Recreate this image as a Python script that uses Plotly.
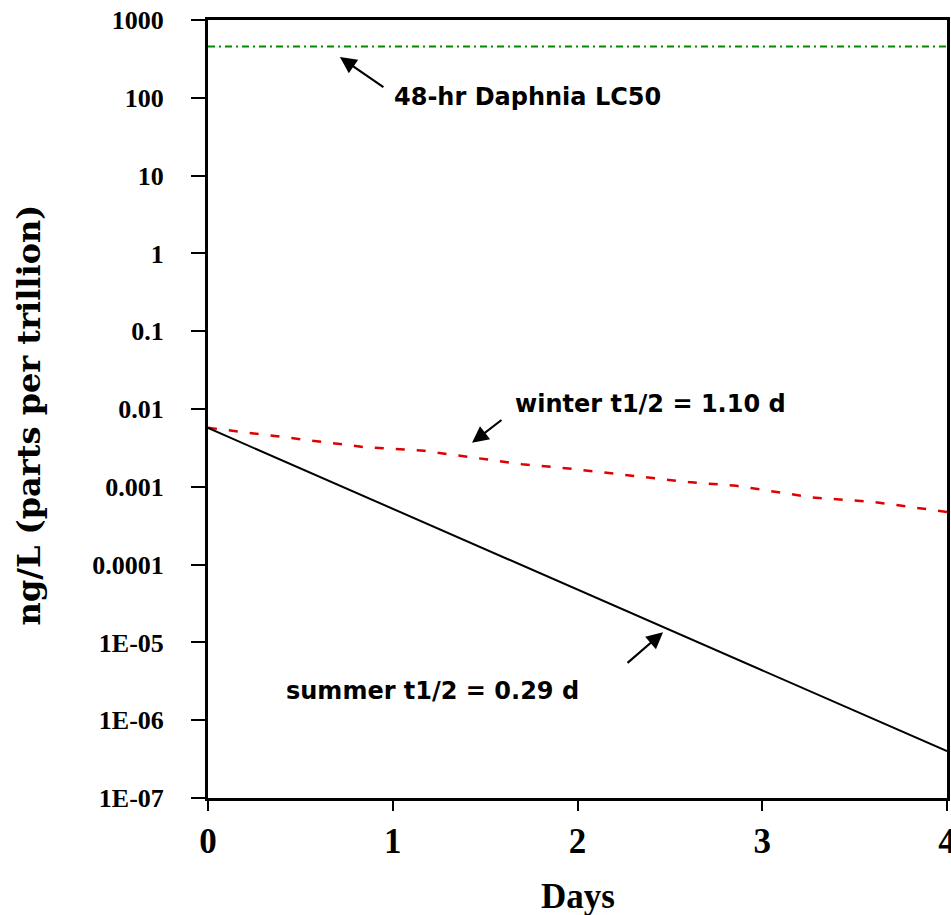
import plotly.graph_objects as go

# Data
days_summer = [0.0, 4.0]
conc_summer = [0.0057, 4.0e-7]

days_winter = [0.0, 0.40, 0.84, 1.17, 1.70, 1.95, 2.60, 2.86, 3.27, 3.60, 4.0]
conc_winter = [0.00574, 0.00435, 0.00325, 0.00290, 0.00195, 0.00172, 0.00115, 0.00103, 0.00073, 0.00064, 0.000475]

days_lc50 = [0.0, 4.0]
conc_lc50 = [455, 455]

x_ticks = [0, 1, 2, 3, 4]
y_tickvals = [1e3, 1e2, 1e1, 1, 0.1, 0.01, 0.001, 0.0001, 1e-5, 1e-6, 1e-7]
y_ticktext = ["1000", "100", "10", "1", "0.1", "0.01", "0.001", "0.0001", "1E-05", "1E-06", "1E-07"]

fig = go.Figure()
fig.add_trace(go.Scatter(x=days_lc50, y=conc_lc50, mode="lines",
                         line=dict(color="#008a00", width=2, dash="7px,4px,2px,4px"),
                         showlegend=False))
fig.add_trace(go.Scatter(x=days_winter, y=conc_winter, mode="lines",
                         line=dict(color="#e00000", width=2.5, dash="9px,12px"),
                         showlegend=False))
fig.add_trace(go.Scatter(x=days_summer, y=conc_summer, mode="lines",
                         line=dict(color="black", width=2),
                         showlegend=False))

serif = "Liberation Serif, Times New Roman, serif"
sans = "DejaVu Sans, Arial, sans-serif"

fig.update_layout(
    width=951, height=915,
    margin=dict(l=208, r=4, t=20, b=117),
    paper_bgcolor="white", plot_bgcolor="white",
    xaxis=dict(range=[0, 4], tickvals=x_ticks, ticks="outside", ticklen=10, tickwidth=2,
               tickcolor="black", showline=True, linewidth=3, linecolor="black", mirror=True,
               showgrid=False, zeroline=False, automargin=False, ticklabeloverflow="allow",
               tickfont=dict(family=serif, size=35, color="black", weight="bold"),
               ticklabelstandoff=0),
    yaxis=dict(type="log", range=[-7, 3], tickvals=y_tickvals, ticktext=y_ticktext,
               ticks="outside", ticklen=14, tickwidth=2, tickcolor="black",
               showline=True, linewidth=3, linecolor="black", mirror=True,
               showgrid=False, zeroline=False, automargin=False, ticklabeloverflow="allow",
               tickfont=dict(family=serif, size=26, color="black", weight="bold"),
               ticklabelstandoff=22),
)

# axis titles
fig.add_annotation(x=0.5, y=-0.127, xref="paper", yref="paper", xanchor="center", yanchor="middle",
                   text="<b>Days</b>", showarrow=False,
                   font=dict(family=serif, size=35, color="black"))
fig.add_annotation(x=-0.242, y=0.492, xref="paper", yref="paper", xanchor="center", yanchor="middle",
                   text="<b>ng/L (parts per trillion)</b>", showarrow=False, textangle=-90,
                   font=dict(family="DejaVu Serif, serif", size=32, color="black"))

ann_font = dict(family=sans, size=24, color="black")
arrow = dict(showarrow=True, arrowhead=2, arrowsize=1.5, arrowwidth=2.2, arrowcolor="black",
             xref="x", yref="y", text="")
fig.add_annotation(x=0.714, y=2.523, ax=45, ay=31, **arrow)
fig.add_annotation(x=1.429, y=-2.435, ax=31, ay=-24, **arrow)
fig.add_annotation(x=2.463, y=-4.869, ax=-37, ay=32, **arrow)

fig.add_annotation(x=0.996, y=2.008, xref="x", yref="y", xanchor="left", yanchor="middle",
                   text="<b>48-hr Daphnia LC50</b>", showarrow=False, font=ann_font)
fig.add_annotation(x=1.651, y=-1.932, xref="x", yref="y", xanchor="left", yanchor="middle",
                   text="<b>winter t1/2 = 1.10 d</b>", showarrow=False, font=ann_font)
fig.add_annotation(x=0.411, y=-5.628, xref="x", yref="y", xanchor="left", yanchor="middle",
                   text="<b>summer t1/2 = 0.29 d</b>", showarrow=False, font=ann_font)

fig.write_html("out.html", config={"displayModeBar": False},
               post_script="document.body.style.margin='0';document.body.style.overflow='hidden';")
